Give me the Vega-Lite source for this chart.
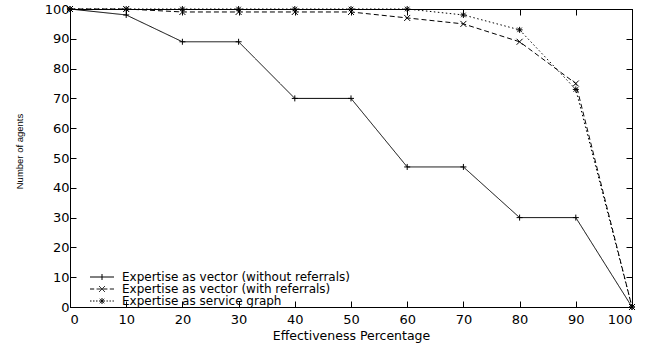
{
  "$schema": "https://vega.github.io/schema/vega-lite/v6.json",
  "width": 562,
  "height": 298,
  "autosize": "none",
  "padding": {"left": 70, "top": 9, "right": 25, "bottom": 40},
  "background": "white",
  "config": {
    "view": {"stroke": "black", "strokeWidth": 1},
    "font": "DejaVu Sans",
    "axis": {
      "grid": false,
      "domainColor": "black",
      "tickColor": "black",
      "labelColor": "black",
      "titleColor": "black",
      "tickSize": -6,
      "labelFont": "DejaVu Sans",
      "labelFontSize": 13,
      "titleFontWeight": "normal"
    }
  },
  "data": {
    "values": [
      {"series": "Expertise as vector (without referrals)", "pct": 0, "agents": 100},
      {"series": "Expertise as vector (without referrals)", "pct": 10, "agents": 98},
      {"series": "Expertise as vector (without referrals)", "pct": 20, "agents": 89},
      {"series": "Expertise as vector (without referrals)", "pct": 30, "agents": 89},
      {"series": "Expertise as vector (without referrals)", "pct": 40, "agents": 70},
      {"series": "Expertise as vector (without referrals)", "pct": 50, "agents": 70},
      {"series": "Expertise as vector (without referrals)", "pct": 60, "agents": 47},
      {"series": "Expertise as vector (without referrals)", "pct": 70, "agents": 47},
      {"series": "Expertise as vector (without referrals)", "pct": 80, "agents": 30},
      {"series": "Expertise as vector (without referrals)", "pct": 90, "agents": 30},
      {"series": "Expertise as vector (without referrals)", "pct": 100, "agents": 0},
      {"series": "Expertise as vector (with referrals)", "pct": 0, "agents": 100},
      {"series": "Expertise as vector (with referrals)", "pct": 10, "agents": 100},
      {"series": "Expertise as vector (with referrals)", "pct": 20, "agents": 99},
      {"series": "Expertise as vector (with referrals)", "pct": 30, "agents": 99},
      {"series": "Expertise as vector (with referrals)", "pct": 40, "agents": 99},
      {"series": "Expertise as vector (with referrals)", "pct": 50, "agents": 99},
      {"series": "Expertise as vector (with referrals)", "pct": 60, "agents": 97},
      {"series": "Expertise as vector (with referrals)", "pct": 70, "agents": 95},
      {"series": "Expertise as vector (with referrals)", "pct": 80, "agents": 89},
      {"series": "Expertise as vector (with referrals)", "pct": 90, "agents": 75},
      {"series": "Expertise as vector (with referrals)", "pct": 100, "agents": 0},
      {"series": "Expertise as service graph", "pct": 0, "agents": 100},
      {"series": "Expertise as service graph", "pct": 10, "agents": 100},
      {"series": "Expertise as service graph", "pct": 20, "agents": 100},
      {"series": "Expertise as service graph", "pct": 30, "agents": 100},
      {"series": "Expertise as service graph", "pct": 40, "agents": 100},
      {"series": "Expertise as service graph", "pct": 50, "agents": 100},
      {"series": "Expertise as service graph", "pct": 60, "agents": 100},
      {"series": "Expertise as service graph", "pct": 70, "agents": 98},
      {"series": "Expertise as service graph", "pct": 80, "agents": 93},
      {"series": "Expertise as service graph", "pct": 90, "agents": 73},
      {"series": "Expertise as service graph", "pct": 100, "agents": 0}
    ]
  },
  "layer": [
    {
      "mark": {"type": "line", "strokeWidth": 1},
      "encoding": {
        "x": {
          "field": "pct", "type": "quantitative",
          "scale": {"domain": [0, 100], "nice": false},
          "axis": {
            "orient": "bottom",
            "values": [0, 10, 20, 30, 40, 50, 60, 70, 80, 90, 100],
            "labelPadding": 12,
            "title": "Effectiveness Percentage",
            "titleFontSize": 12.5,
            "titlePadding": 3
          }
        },
        "y": {
          "field": "agents", "type": "quantitative",
          "scale": {"domain": [0, 100], "nice": false},
          "axis": {
            "orient": "left",
            "values": [0, 10, 20, 30, 40, 50, 60, 70, 80, 90, 100],
            "labelPadding": 7,
            "title": "Number of agents",
            "titleFont": "Liberation Sans",
            "titleFontSize": 9.5,
            "titleAngle": -90,
            "titleX": -51,
            "titleY": 142,
            "titleAlign": "center",
            "titleBaseline": "middle"
          }
        },
        "color": {
          "field": "series", "type": "nominal",
          "scale": {
            "domain": ["Expertise as vector (without referrals)", "Expertise as vector (with referrals)", "Expertise as service graph"],
            "range": ["black", "black", "black"]
          },
          "legend": {
            "title": null,
            "orient": "none",
            "legendX": 26,
            "legendY": 262,
            "padding": 0,
            "symbolSize": 36,
            "symbolOffset": 0,
            "labelOffset": 14,
            "labelFont": "DejaVu Sans",
            "labelFontSize": 12,
            "labelColor": "black",
            "labelLimit": 400,
            "rowPadding": -6,
            "encode": {
              "symbols": {
                "update": {
                  "shape": {"signal": "datum.value === 'Expertise as vector (without referrals)' ? 'M-4,0H4M0,-1V1' : datum.value === 'Expertise as vector (with referrals)' ? 'M-4,0H-2.6M-1.8,0H-0.3M0.3,0H1.8M2.6,0H4M-1,-1L1,1M-1,1L1,-1' : 'M-4,0H-3.5M-3,0H-2.5M-2,0H-1.5M1.5,0H2M2.5,0H3M3.5,0H4M-1,0H1M0,-1V1M-0.75,-0.75L0.75,0.75M-0.75,0.75L0.75,-0.75'"},
                  "strokeDash": {"value": [1, 0]},
                  "fill": {"value": "transparent"},
                  "strokeWidth": {"value": 1},
                  "size": {"value": 36},
                  "opacity": {"value": 1}
                }
              }
            }
          }
        },
        "strokeDash": {
          "field": "series", "type": "nominal",
          "scale": {
            "domain": ["Expertise as service graph", "Expertise as vector (with referrals)", "Expertise as vector (without referrals)"],
            "range": [[1.5, 2.5], [5, 3], [1, 0]]
          },
          "legend": null
        }
      }
    },
    {
      "mark": {"type": "point", "filled": false, "color": "black", "strokeWidth": 1, "size": 36, "opacity": 1},
      "encoding": {
        "x": {
          "field": "pct", "type": "quantitative",
          "axis": {
            "orient": "top",
            "values": [0, 10, 20, 30, 40, 50, 60, 70, 80, 90, 100],
            "labels": false,
            "title": null
          }
        },
        "y": {
          "field": "agents", "type": "quantitative",
          "axis": {
            "orient": "right",
            "values": [0, 10, 20, 30, 40, 50, 60, 70, 80, 90, 100],
            "labels": false,
            "title": null
          }
        },
        "shape": {
          "field": "series", "type": "nominal",
          "scale": {
            "domain": ["Expertise as vector (with referrals)", "Expertise as vector (without referrals)", "Expertise as service graph"],
            "range": ["M-1,-1L1,1M-1,1L1,-1", "M-1,0H1M0,-1V1", "M-1,0H1M0,-1V1M-0.75,-0.75L0.75,0.75M-0.75,0.75L0.75,-0.75"]
          },
          "legend": null
        }
      }
    }
  ]
}
